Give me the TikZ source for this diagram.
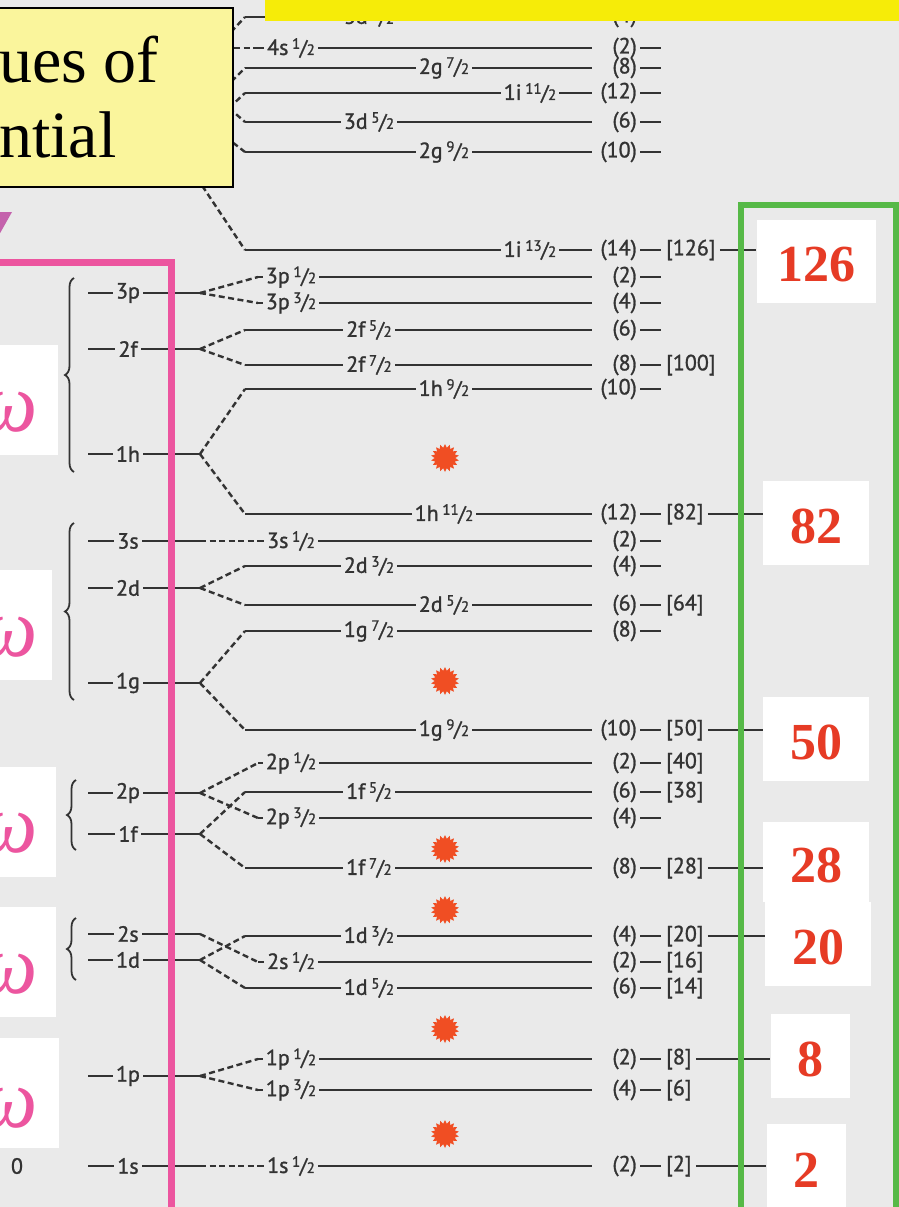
\documentclass[tikz,border=0pt]{standalone}
\usepackage{fontspec}
\usepackage{tikz}
\usetikzlibrary{shapes.geometric,decorations.pathreplacing}

\newfontfamily\scanfont{PT Sans}[FakeBold=1.2]
\newfontfamily\slidefont{Liberation Serif}

\definecolor{scanbg}{HTML}{EAEAEA}
\definecolor{ink}{HTML}{333333}
\definecolor{notepale}{HTML}{FAF59C}
\definecolor{baryellow}{HTML}{F6EC08}
\definecolor{framepink}{HTML}{EC559F}
\definecolor{tripink}{HTML}{C462AC}
\definecolor{framegreen}{HTML}{56B947}
\definecolor{magicred}{HTML}{E63B25}
\definecolor{burstred}{HTML}{F04E23}

% slanted j fraction, e.g. 1/2
\newcommand{\spinfrac}[2]{\,\raisebox{0.28em}{\fontsize{15}{15}\selectfont#1}\kern-0.5pt{\fontsize{21}{21}\selectfont/}\kern-0.5pt{\fontsize{15}{15}\selectfont#2}}

\begin{document}
\begin{tikzpicture}[x=1pt, y=-1pt,
  lvl/.style={draw=ink, line width=2.8pt},
  split/.style={draw=ink, line width=2.4pt, dash pattern=on 6pt off 3.5pt},
  lab/.style={fill=scanbg, text=ink, inner xsep=3pt, inner ysep=1pt, font=\scanfont\fontsize{22}{22}\selectfont},
  deg/.style={text=ink, inner sep=0pt, font=\scanfont\fontsize{22}{22}\selectfont},
  grp/.style={draw=ink, line width=1.8pt, decorate, decoration={brace, amplitude=9pt}},
  burst/.style={star, star points=18, star point ratio=1.35, fill=burstred, inner sep=0pt, minimum size=28pt},
  magic/.style={fill=white, text=magicred, inner sep=0pt, text height=40pt, text depth=0pt, font=\slidefont\bfseries\fontsize{52}{52}\selectfont},
  hw/.style={fill=white, inner sep=0pt},
  omega/.style={text=framepink, inner sep=0pt, font=\slidefont\itshape\fontsize{84}{84}\selectfont}]

  \useasboundingbox (0,0) rectangle (899,1207);
  \fill[scanbg] (0,0) rectangle (899,1207);

  % oscillator shells
  \foreach \nm/\y in {3p/293, 2f/349, 1h/454, 3s/541, 2d/588, 1g/683, 2p/793, 1f/834, 2s/934, 1d/960, 1p/1076, 1s/1166} {
    \draw[lvl] (88,\y) -- (200,\y);
    \node[lab] (n\nm) at (128,\y) {\nm};
    \coordinate (o\nm) at (200,\y);
  }
  \node[deg] (zero) at (17,1166) {0};

  % braces round the close shells
  \draw[grp] (74,472) -- (74,278);
  \draw[grp] (74,700) -- (74,523);
  \draw[grp] (76,850) -- (76,780);
  \draw[grp] (76,980) -- (76,918);

  % split levels: name/start/y/label x/label/(2j+1)
  \foreach \nm/\xs/\y/\lx/\lab/\dg in {
    d3a/245/17/369/{3d\spinfrac32}/4,
    s4/258/48/291/{4s\spinfrac12}/2,
    g2a/245/68/444/{2g\spinfrac72}/8,
    i1a/245/93/530/{1i\spinfrac{11}2}/12,
    d3b/245/122/369/{3d\spinfrac52}/6,
    g2b/245/152/444/{2g\spinfrac92}/10,
    i1b/245/250/530/{1i\spinfrac{13}2}/14,
    p3a/258/277/291/{3p\spinfrac12}/2,
    p3b/258/303/291/{3p\spinfrac32}/4,
    f2a/245/330/369/{2f\spinfrac52}/6,
    f2b/245/365/369/{2f\spinfrac72}/8,
    h1a/245/389/444/{1h\spinfrac92}/10,
    h1b/245/514/444/{1h\spinfrac{11}2}/12,
    s3/258/541/291/{3s\spinfrac12}/2,
    d2a/245/566/369/{2d\spinfrac32}/4,
    d2b/245/605/444/{2d\spinfrac52}/6,
    g1a/245/631/369/{1g\spinfrac72}/8,
    g1b/245/730/444/{1g\spinfrac92}/10,
    p2a/258/763/291/{2p\spinfrac12}/2,
    f1a/245/792/369/{1f\spinfrac52}/6,
    p2b/258/818/291/{2p\spinfrac32}/4,
    f1b/245/868/369/{1f\spinfrac72}/8,
    d1a/245/936/369/{1d\spinfrac32}/4,
    s2/258/962/291/{2s\spinfrac12}/2,
    d1b/245/988/369/{1d\spinfrac52}/6,
    p1a/258/1059/291/{1p\spinfrac12}/2,
    p1b/258/1090/291/{1p\spinfrac32}/4,
    s1/258/1166/291/{1s\spinfrac12}/2} {
    \coordinate (\nm) at (\xs,\y);
    \draw[lvl] (\nm) -- (592,\y);
    \node[lab] (l\nm) at (\lx,\y) {\lab};
    \node[deg, anchor=east] (d\nm) at (637,\y) {(\dg)};
    \draw[lvl] ([xshift=3pt]d\nm.east) -- ++(21,0);
  }

  % higher shells, ends hidden under the note
  \coordinate (in3d) at (218,46);
  \coordinate (in4s) at (215,48);
  \coordinate (in2g) at (218,95);
  \coordinate (in1i) at (229,108);
  \coordinate (in2gb) at (218,131);
  \coordinate (in1ib) at (197,178);

  % spin-orbit splitting
  \foreach \a/\b in {o3p/p3a, o3p/p3b, o2f/f2a, o2f/f2b, o1h/h1a, o1h/h1b,
    o3s/s3, o2d/d2a, o2d/d2b, o1g/g1a, o1g/g1b, o2p/p2a, o2p/p2b,
    o1f/f1a, o1f/f1b, o2s/s2, o1d/d1a, o1d/d1b, o1p/p1a, o1p/p1b, o1s/s1,
    in3d/d3a, in4s/s4, in2g/g2a, in1i/i1a, in1i/d3b, in2gb/g2b, in1ib/i1b}
    \draw[split] (\a) -- (\b);

  % running totals
  \foreach \nm/\tot in {i1b/126, f2b/100, h1b/82, d2b/64, g1b/50, p2a/40, f1a/38,
    f1b/28, d1a/20, s2/16, d1b/14, p1a/8, p1b/6, s1/2}
    \node[deg, anchor=west] (t\nm) at ([xshift=29pt]d\nm.east) {[\tot]};

  % gaps
  \foreach \y in {458, 681, 849, 910, 1029, 1134}
    \node[burst] (b\y) at (445,\y) {};

  % magic numbers
  \foreach \nm/\tot/\cx/\cy/\w/\h in {i1b/126/816/261/119/83, h1b/82/816/523/106/84,
    g1b/50/816/739/106/84, f1b/28/816/862/106/80, d1a/20/818/944/106/84,
    p1a/8/810/1056/79/84, s1/2/806/1167/79/86}
    \node[magic, minimum width=\w pt, minimum height=\h pt] (m\nm) at (\cx,\cy) {\tot};
  \foreach \nm in {i1b, h1b, g1b, f1b, d1a, p1a, s1}
    \draw[lvl] ([xshift=4pt]t\nm.east) -- (t\nm.east -| m\nm.west);
  \draw[framegreen, line width=6pt] (741,1215) -- (741,205) -- (896,205) -- (896,1215);

  % oscillator frame and hbar omega spacings
  \draw[framepink, line width=7pt] (-5,262) -- (171,262) -- (171,1215);
  \foreach \i/\t/\r/\yo in {1/345/58/412, 2/570/52/637, 3/767/56/833, 4/907/56/974, 5/1038/59/1108} {
    \node[hw, anchor=north east, minimum width=70pt, minimum height=110pt] (hw\i) at (\r,\t) {};
    \node[omega, anchor=east] (om\i) at (38,\yo) {ω};
  }

  % note and banner
  \filldraw[fill=notepale, draw=black, line width=2pt] (-5,8) rectangle (233,187);
  \node[anchor=base west, inner sep=0pt, font=\slidefont\fontsize{66}{66}\selectfont] (nt1) at (-1,82) {ues of};
  \node[anchor=base west, inner sep=0pt, font=\slidefont\fontsize{66}{66}\selectfont] (nt2) at (-1,157) {ntial};
  \fill[baryellow] (265,-2) rectangle (905,21);
  \fill[tripink] (-1,212) -- (12,212) -- (-1,235) -- cycle;
\end{tikzpicture}
\end{document}
